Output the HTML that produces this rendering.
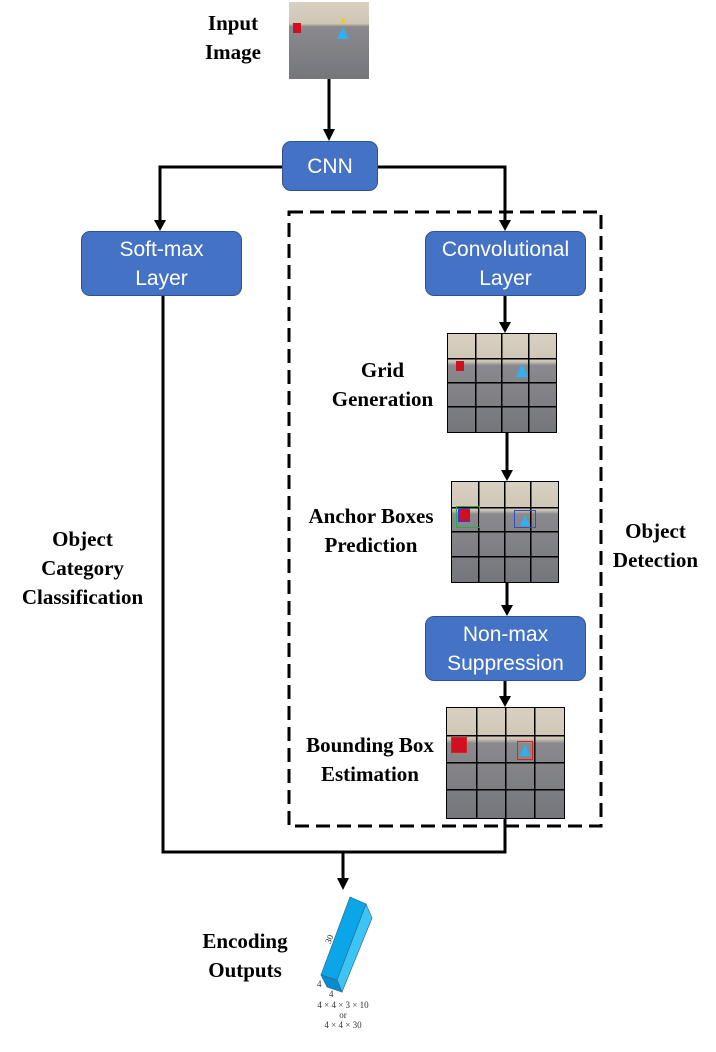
<!DOCTYPE html><html><head><style>
body{margin:0;background:#fff;width:716px;height:1052px;position:relative;overflow:hidden;font-family:"Liberation Sans",sans-serif}
.b{position:absolute;background:#4472c4;border:1.5px solid #2f528f;border-radius:9px;color:#fff;font-size:21px;text-align:center;line-height:29px;box-sizing:border-box;display:flex;align-items:center;justify-content:center}
.t{position:absolute;font-family:"Liberation Serif",serif;font-weight:bold;font-size:21px;text-align:center;line-height:29px;color:#000}
.img{position:absolute;background:linear-gradient(#d8d0c0 0%,#cfc6b6 28%,#8a8a8e 32%,#75767c 100%);overflow:hidden}
.g{position:absolute;border:1.5px solid #000;box-sizing:border-box;
background-image:linear-gradient(#000,#000),linear-gradient(#000,#000),linear-gradient(#000,#000),linear-gradient(#000,#000),linear-gradient(#000,#000),linear-gradient(#000,#000),linear-gradient(#d8d0c0 0%,#cfc6b6 28%,#8a8a8e 32%,#75767c 100%);
background-size:1.5px 100%,1.5px 100%,1.5px 100%,100% 1.5px,100% 1.5px,100% 1.5px,100% 100%;
background-position:25% 0,50% 0,75% 0,0 25%,0 50%,0 75%,0 0;background-repeat:no-repeat}
</style></head><body>
<div class="img" style="left:289px;top:2px;width:80px;height:77px"><div style="position:absolute;left:4px;top:21px;width:8px;height:10px;background:#d01020"></div><div style="position:absolute;left:48px;top:25px;width:0;height:0;border-left:6px solid transparent;border-right:6px solid transparent;border-bottom:12px solid #30b0f0"></div><div style="position:absolute;left:51px;top:16px;width:0;border-left:3px solid transparent;border-right:3px solid transparent;border-bottom:5px solid #f0d000"></div></div>
<div class="g" style="left:447px;top:333px;width:110px;height:100px"><div style="position:absolute;left:8px;top:27px;width:8px;height:10px;background:#d01020"></div><div style="position:absolute;left:68px;top:30px;border-left:6px solid transparent;border-right:6px solid transparent;border-bottom:13px solid #30b0f0"></div></div>
<div class="g" style="left:451px;top:481px;width:108px;height:102px"><div style="position:absolute;left:4px;top:24px;width:22px;height:20px;border:1.5px solid #20b040"></div><div style="position:absolute;left:6px;top:26px;width:10px;height:12px;background:#d01020;border:1px solid #33f"></div><div style="position:absolute;left:62px;top:28px;width:20px;height:16px;border:1px solid #3050c0"></div><div style="position:absolute;left:68px;top:33px;border-left:5px solid transparent;border-right:5px solid transparent;border-bottom:11px solid #30b0f0"></div></div>
<div class="g" style="left:446px;top:707px;width:119px;height:112px"><div style="position:absolute;left:4px;top:29px;width:14px;height:14px;border:1.5px solid #e02020;background:#d01020"></div><div style="position:absolute;left:70px;top:33px;width:14px;height:17px;border:1.5px solid #e02020"></div><div style="position:absolute;left:73px;top:36px;border-left:5px solid transparent;border-right:5px solid transparent;border-bottom:12px solid #30b0f0"></div></div>
<div class="b" style="left:282px;top:141px;width:96px;height:50px">CNN</div>
<div class="b" style="left:81px;top:231px;width:161px;height:65px">Soft-max<br>Layer</div>
<div class="b" style="left:425px;top:231px;width:161px;height:65px">Convolutional<br>Layer</div>
<div class="b" style="left:425px;top:616px;width:161px;height:65px">Non-max<br>Suppression</div>
<svg style="position:absolute;left:0;top:0" width="716" height="1052">
<g stroke="#000" stroke-width="3" fill="none">
<rect x="289" y="212" width="312" height="614" stroke-dasharray="14,7"/>
<path d="M282,167H160V222"/><path d="M378,167H505V222"/>
<path d="M505,296V324"/><path d="M507,433V472"/><path d="M507,583V607"/><path d="M505,681V698"/>
<path d="M163,296V852H505V819"/><path d="M343,852V880"/><path d="M329,79V132"/>
</g>
<g fill="#000">
<path d="M323,129L335,129L329,141z"/><path d="M154,220L166,220L160,231z"/><path d="M499,220L511,220L505,231z"/>
<path d="M499,322L511,322L505,333z"/><path d="M501,470L513,470L507,481z"/><path d="M501,605L513,605L507,616z"/>
<path d="M499,696L511,696L505,707z"/><path d="M337,878L349,878L343,890z"/>
</g>
<g stroke="#2a6d9c" stroke-width="0.7">
<path d="M321,975L350,897L366,904L337,980z" fill="#0aa6e8"/>
<path d="M337,980L366,904L372,918L342,992z" fill="#3cc4f4"/>
<path d="M321,975L337,980L342,992L327,987z" fill="#0a8ccc"/>
</g>
<g font-family="Liberation Serif,serif" font-size="9" fill="#333">
<text x="326" y="942" transform="rotate(-67 330 940)">30</text>
<text x="317" y="987">4</text><text x="329" y="997">4</text>
<text x="343" y="1008" text-anchor="middle">4 × 4 × 3 × 10</text>
<text x="343" y="1018" text-anchor="middle">or</text>
<text x="343" y="1028" text-anchor="middle">4 × 4 × 30</text>
</g>
</svg>
<div class="t" style="left:190px;top:9px;width:86px">Input<br>Image</div>
<div class="t" style="left:330px;top:356px;width:105px">Grid<br>Generation</div>
<div class="t" style="left:296px;top:502px;width:150px">Anchor Boxes<br>Prediction</div>
<div class="t" style="left:290px;top:731px;width:160px">Bounding Box<br>Estimation</div>
<div class="t" style="left:10px;top:525px;width:145px">Object<br>Category<br>Classification</div>
<div class="t" style="left:598px;top:517px;width:115px">Object<br>Detection</div>
<div class="t" style="left:190px;top:927px;width:110px">Encoding<br>Outputs</div>
</body></html>
